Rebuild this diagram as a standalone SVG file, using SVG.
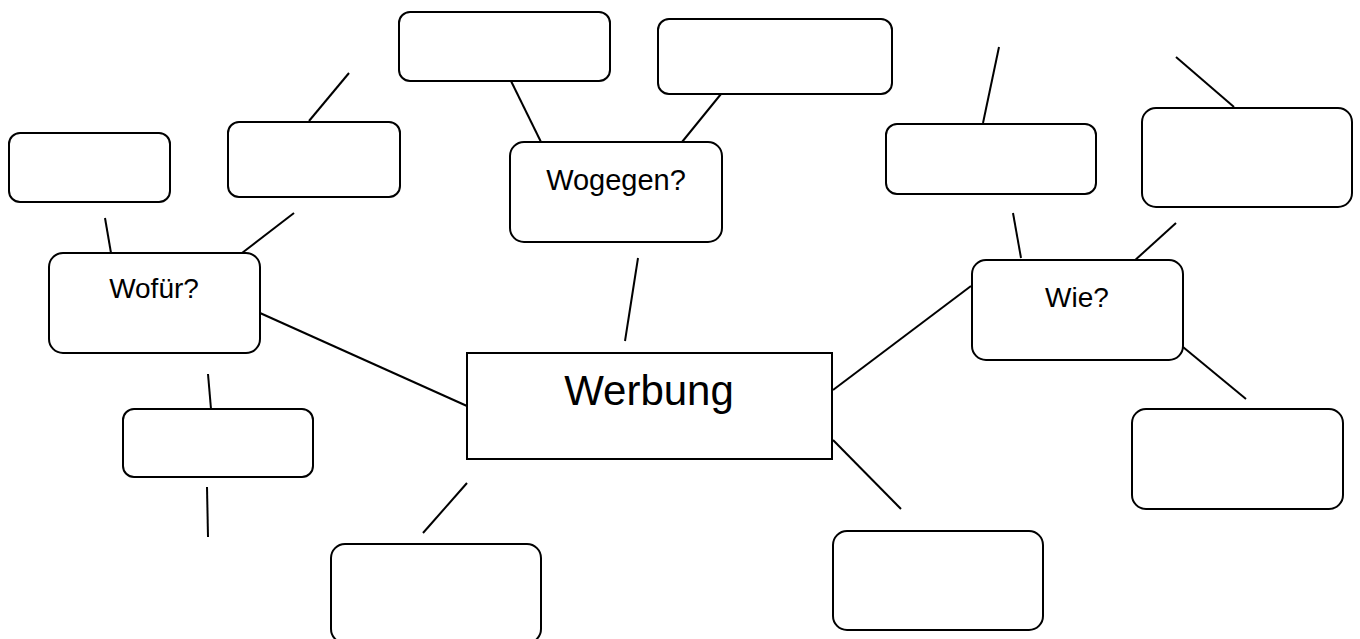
<svg xmlns="http://www.w3.org/2000/svg" width="1360" height="639" viewBox="0 0 1360 639">
<style>
.box{fill:#fff;stroke:#000;stroke-width:2}
.lbl{font-family:"Liberation Sans",Arial,sans-serif;fill:#000;text-anchor:middle}
#connectors line{stroke:#000;stroke-width:2;stroke-linecap:butt}
</style>
<rect width="1360" height="639" fill="#fff"/>
<g id="connectors">
<line x1="349" y1="73" x2="309" y2="121"/>
<line x1="105" y1="218" x2="111" y2="253"/>
<line x1="294" y1="213" x2="242" y2="253"/>
<line x1="260" y1="313" x2="467" y2="406"/>
<line x1="511" y1="81" x2="541" y2="142"/>
<line x1="721" y1="94" x2="682" y2="142"/>
<line x1="638" y1="258" x2="625" y2="341"/>
<line x1="999" y1="47" x2="983" y2="123"/>
<line x1="1176" y1="57" x2="1234" y2="107"/>
<line x1="1013" y1="213" x2="1021" y2="258"/>
<line x1="1176" y1="223" x2="1133" y2="262"/>
<line x1="971" y1="286" x2="833" y2="390"/>
<line x1="1183" y1="347" x2="1246" y2="399"/>
<line x1="208" y1="374" x2="211" y2="409"/>
<line x1="207" y1="487" x2="208" y2="537"/>
<line x1="467" y1="483" x2="423" y2="533"/>
<line x1="833" y1="440" x2="901" y2="509"/>
</g>
<g id="werbung"><rect class="box" x="467" y="353" width="365" height="106"/><text class="lbl" x="649" y="405" font-size="42">Werbung</text></g>
<g id="wofuer"><rect class="box" x="49" y="253" width="211" height="100" rx="14"/><text class="lbl" x="154" y="298" font-size="28">Wofür?</text></g>
<g id="wogegen"><rect class="box" x="510" y="142" width="212" height="100" rx="14"/><text class="lbl" x="616" y="190" font-size="29">Wogegen?</text></g>
<g id="wie"><rect class="box" x="972" y="260" width="211" height="100" rx="14"/><text class="lbl" x="1077" y="307" font-size="28">Wie?</text></g>
<g id="boxA"><rect class="box" x="9" y="133" width="161" height="69" rx="11"/></g>
<g id="boxB"><rect class="box" x="228" y="122" width="172" height="75" rx="11"/></g>
<g id="boxC"><rect class="box" x="399" y="12" width="211" height="69" rx="11"/></g>
<g id="boxD"><rect class="box" x="658" y="19" width="234" height="75" rx="11"/></g>
<g id="boxE"><rect class="box" x="886" y="124" width="210" height="70" rx="11"/></g>
<g id="boxF"><rect class="box" x="1142" y="108" width="210" height="99" rx="14"/></g>
<g id="boxG"><rect class="box" x="1132" y="409" width="211" height="100" rx="14"/></g>
<g id="boxH"><rect class="box" x="123" y="409" width="190" height="68" rx="11"/></g>
<g id="boxI"><rect class="box" x="331" y="544" width="210" height="99" rx="14"/></g>
<g id="boxJ"><rect class="box" x="833" y="531" width="210" height="99" rx="14"/></g>
</svg>
